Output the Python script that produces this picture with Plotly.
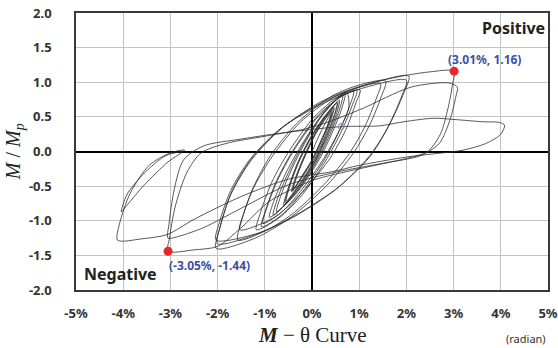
import plotly.graph_objects as go

# ---------------- data (rotation %, M/Mp) ----------------
start_path = [(0.0, 0.0), (0.2, 0.3), (0.40, 0.55)]

cyc_0375 = [(0.33, 0.38), (0.18, 0.14), (0.0, -0.12), (-0.22, -0.36), (-0.40, -0.55),
            (-0.31, -0.34), (-0.13, -0.04), (0.08, 0.26), (0.27, 0.46), (0.42, 0.58),
            (0.35, 0.40), (0.19, 0.15), (0.02, -0.10), (-0.20, -0.35), (-0.42, -0.57),
            (-0.33, -0.36), (-0.14, -0.05), (0.07, 0.25), (0.28, 0.47), (0.45, 0.62),
            (0.37, 0.43), (0.21, 0.16), (0.03, -0.11), (-0.21, -0.37), (-0.43, -0.58),
            (-0.34, -0.36), (-0.15, -0.04), (0.06, 0.26), (0.27, 0.48), (0.47, 0.64)]

cyc_050 = [(0.40, 0.45), (0.25, 0.18), (0.05, -0.12), (-0.25, -0.45), (-0.55, -0.72),
           (-0.46, -0.48), (-0.27, -0.14), (0.0, 0.22), (0.26, 0.48), (0.53, 0.70),
           (0.46, 0.50), (0.29, 0.21), (0.07, -0.12), (-0.24, -0.46), (-0.57, -0.75),
           (-0.48, -0.50), (-0.29, -0.15), (-0.01, 0.22), (0.27, 0.50), (0.55, 0.72),
           (0.48, 0.52), (0.31, 0.22), (0.08, -0.12), (-0.25, -0.48), (-0.60, -0.78),
           (-0.50, -0.52), (-0.30, -0.16), (-0.02, 0.22), (0.28, 0.52), (0.58, 0.74)]

cyc_075 = [(0.50, 0.50), (0.32, 0.20), (0.08, -0.14), (-0.30, -0.55), (-0.75, -0.87),
           (-0.65, -0.62), (-0.42, -0.24), (-0.12, 0.16), (0.25, 0.55), (0.65, 0.82),
           (0.58, 0.60), (0.40, 0.28), (0.12, -0.12), (-0.32, -0.58), (-0.82, -0.92),
           (-0.72, -0.66), (-0.47, -0.26), (-0.15, 0.15), (0.25, 0.56), (0.70, 0.84),
           (0.63, 0.62), (0.44, 0.29), (0.15, -0.12), (-0.35, -0.62), (-0.90, -0.95),
           (-0.80, -0.70), (-0.53, -0.28), (-0.18, 0.14), (0.26, 0.57), (0.73, 0.86)]

cyc_100 = [(0.78, 0.64), (0.56, 0.28), (0.25, -0.10), (-0.25, -0.58), (-0.65, -0.88), (-1.04, -1.04),
           (-0.95, -0.80), (-0.72, -0.40), (-0.38, 0.02), (0.10, 0.48), (0.55, 0.76), (0.88, 0.87),
           (0.80, 0.66), (0.58, 0.30), (0.28, -0.10), (-0.22, -0.60), (-0.65, -0.92), (-1.07, -1.09),
           (-0.98, -0.84), (-0.75, -0.42), (-0.40, 0.02), (0.10, 0.50), (0.58, 0.78), (0.95, 0.88),
           (0.86, 0.68), (0.63, 0.30), (0.32, -0.10), (-0.20, -0.62), (-0.70, -0.96), (-1.18, -1.13),
           (-1.08, -0.86), (-0.85, -0.44), (-0.48, 0.01), (0.05, 0.50), (0.58, 0.80), (1.02, 0.89)]

cyc_150 = [(0.93, 0.70), (0.72, 0.32), (0.40, -0.08), (-0.15, -0.55), (-0.80, -0.95), (-1.53, -1.13),
           (-1.45, -0.90), (-1.22, -0.50), (-0.82, -0.05), (-0.25, 0.42), (0.45, 0.78), (1.00, 0.93), (1.45, 0.98),
           (1.36, 0.76), (1.12, 0.36), (0.80, -0.02), (0.25, -0.48), (-0.45, -0.92), (-1.00, -1.15), (-1.57, -1.28),
           (-1.50, -1.02), (-1.27, -0.56), (-0.88, -0.06), (-0.30, 0.42), (0.42, 0.80), (1.05, 0.97), (1.56, 1.02)]

cyc_200 = [(1.46, 0.78), (1.22, 0.38), (0.88, -0.02), (0.30, -0.50), (-0.45, -0.95), (-1.20, -1.25), (-2.03, -1.40),
           (-1.96, -1.12), (-1.72, -0.62), (-1.28, -0.12), (-0.62, 0.35), (0.25, 0.72), (1.15, 0.96), (2.05, 1.09),
           (1.93, 0.82), (1.62, 0.36), (1.22, -0.08), (0.55, -0.52), (-0.35, -0.92), (-1.15, -1.18), (-2.03, -1.28),
           (-1.96, -1.02), (-1.72, -0.56), (-1.30, -0.10), (-0.65, 0.34), (0.25, 0.70), (1.15, 0.93), (2.00, 1.03),
           (1.90, 0.80), (1.60, 0.34), (1.20, -0.08), (0.50, -0.55), (-0.40, -0.95), (-1.20, -1.20), (-2.00, -1.33)]

cyc_300 = [(-1.93, -1.05), (-1.70, -0.58), (-1.28, -0.10), (-0.60, 0.36), (0.25, 0.74), (1.20, 0.98),
           (2.00, 1.10), (2.50, 1.15), (3.01, 1.16),
           (2.98, 0.98), (2.88, 0.62), (2.72, 0.25), (2.45, 0.00), (2.00, -0.10), (1.00, -0.25),
           (0.00, -0.42), (-0.90, -0.72), (-1.50, -1.10), (-2.00, -1.37), (-2.50, -1.42), (-3.05, -1.44),
           (-3.02, -1.25), (-2.90, -0.80), (-2.65, -0.30), (-2.35, -0.02), (-1.80, 0.12), (-1.00, 0.22),
           (0.00, 0.35), (1.00, 0.60), (2.10, 0.93), (2.90, 0.99), (3.08, 0.93),
           (3.05, 0.80), (2.92, 0.45), (2.70, 0.12), (2.30, -0.06), (1.50, -0.17), (0.50, -0.30),
           (-0.50, -0.48), (-1.50, -0.82), (-2.30, -1.10), (-2.80, -1.22), (-3.05, -1.25)]

cyc_400 = [(-3.03, -1.05), (-2.92, -0.55), (-2.72, -0.12), (-2.30, 0.08), (-1.50, 0.18), (-0.50, 0.28),
           (0.65, 0.36), (1.43, 0.37), (1.86, 0.42), (2.56, 0.48), (3.06, 0.46), (3.60, 0.43),
           (3.97, 0.42), (4.08, 0.38),
           (4.00, 0.25), (3.70, 0.12), (3.20, 0.02), (2.50, -0.04), (2.00, -0.08), (1.00, -0.20),
           (0.44, -0.29), (-0.50, -0.40), (-1.50, -0.65), (-2.50, -0.98), (-3.07, -1.20), (-3.60, -1.26),
           (-4.12, -1.28),
           (-4.08, -1.05), (-3.85, -0.60), (-3.45, -0.20), (-3.00, -0.02), (-2.70, 0.02),
           (-3.05, -0.15), (-3.55, -0.48), (-3.90, -0.76), (-4.04, -0.87),
           (-3.92, -0.62), (-3.55, -0.31), (-3.10, -0.06), (-2.75, 0.00)]

peak_pos = (3.01, 1.16)
peak_neg = (-3.05, -1.44)
marker_pt = (0.62, 0.36)

x_ticks = [-5, -4, -3, -2, -1, 0, 1, 2, 3, 4, 5]
x_labels = ["-5%", "-4%", "-3%", "-2%", "-1%", "0%", "1%", "2%", "3%", "4%", "5%"]
y_ticks = [-2.0, -1.5, -1.0, -0.5, 0.0, 0.5, 1.0, 1.5, 2.0]
y_labels = ["-2.0", "-1.5", "-1.0", "-0.5", "0.0", "0.5", "1.0", "1.5", "2.0"]

# ---------------- figure ----------------
path = start_path + cyc_0375 + cyc_050 + cyc_075 + cyc_100 + cyc_150 + cyc_200 + cyc_300 + cyc_400
xs = [p[0] for p in path]
ys = [p[1] for p in path]

fig = go.Figure()
fig.add_trace(go.Scatter(x=xs, y=ys, mode="lines",
                         line=dict(color="#2e2e2e", width=0.8, shape="spline", smoothing=0.8),
                         hoverinfo="skip", showlegend=False))
fig.add_trace(go.Scatter(x=[marker_pt[0]], y=[marker_pt[1]], mode="markers",
                         marker=dict(size=6, color="rgba(0,0,0,0)", line=dict(color="#7f9cc4", width=1.2)),
                         showlegend=False))
fig.add_trace(go.Scatter(x=[peak_pos[0], peak_neg[0]], y=[peak_pos[1], peak_neg[1]], mode="markers",
                         marker=dict(size=9, color="#e8262a"), showlegend=False))

tick_font = dict(family="Noto Sans", size=13, color="#333333")
fig.update_xaxes(range=[-5, 5], tickvals=x_ticks, ticktext=[f"<b>{t}</b>" for t in x_labels],
                 tickfont=tick_font, showgrid=True, gridcolor="#c3c3c3", gridwidth=1,
                 zeroline=True, zerolinecolor="#000000", zerolinewidth=1.5,
                 showline=True, mirror=True, linecolor="#3a3a3a", linewidth=1.5,
                 ticks="outside", ticklen=11, tickcolor="rgba(0,0,0,0)", automargin=False)
fig.update_yaxes(range=[-2, 2], tickvals=y_ticks, ticktext=[f"<b>{t}</b>" for t in y_labels],
                 tickfont=tick_font, showgrid=True, gridcolor="#c3c3c3", gridwidth=1,
                 zeroline=True, zerolinecolor="#000000", zerolinewidth=1.5,
                 showline=True, mirror=True, linecolor="#3a3a3a", linewidth=1.5,
                 ticks="outside", ticklen=20, tickcolor="rgba(0,0,0,0)", automargin=False)

blue = "#3d4fa3"
fig.add_annotation(x=peak_pos[0], y=peak_pos[1], text="<b>(3.01%, 1.16)</b>", showarrow=False,
                   yshift=12, xshift=30, font=dict(family="Noto Sans", size=12, color=blue))
fig.add_annotation(x=peak_neg[0], y=peak_neg[1], text="<b>(-3.05%, -1.44)</b>", showarrow=False,
                   yshift=-14, xshift=41, font=dict(family="Noto Sans", size=12, color=blue))
fig.add_annotation(xref="paper", yref="paper", x=0.998, y=0.993, xanchor="right", yanchor="top",
                   text="<b>Positive</b>", showarrow=False,
                   font=dict(family="Noto Sans", size=16, color="#222222"))
fig.add_annotation(xref="paper", yref="paper", x=0.012, y=0.012, xanchor="left", yanchor="bottom",
                   text="<b>Negative</b>", showarrow=False,
                   font=dict(family="Noto Sans", size=16, color="#222222"))
fig.add_annotation(xref="paper", yref="paper", x=0.5, y=-0.162, xanchor="center", yanchor="middle",
                   text="<b><i>M</i></b> − θ Curve", showarrow=False,
                   font=dict(family="Liberation Serif", size=21, color="#222222"))
fig.add_annotation(xref="paper", yref="paper", x=1.0, y=-0.176, xanchor="right", yanchor="middle",
                   text="(radian)", showarrow=False,
                   font=dict(family="Noto Sans", size=11, color="#333333"))
fig.add_annotation(xref="paper", yref="paper", x=-0.13, y=0.5, xanchor="center", yanchor="middle",
                   text="<i>M</i> / <i>M<sub>p</sub></i>", showarrow=False, textangle=-90,
                   font=dict(family="Liberation Serif", size=20, color="#222222"))

fig.update_layout(width=558, height=348, margin=dict(l=76, r=10, t=13, b=58),
                  paper_bgcolor="white", plot_bgcolor="white", showlegend=False)

fig.write_html("out.html")
